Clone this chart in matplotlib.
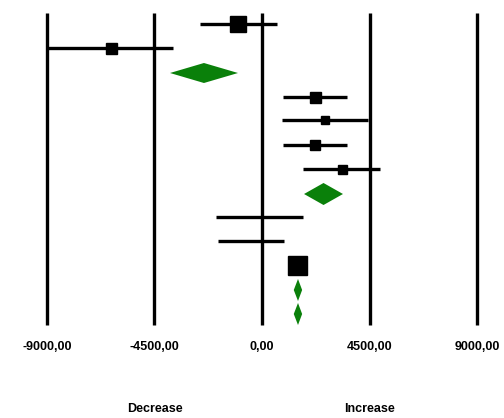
import matplotlib
matplotlib.use("Agg")
import matplotlib.pyplot as plt
from matplotlib.patches import Polygon

# Study rows (top to bottom)
est   = [-1005, -6320, None, 2220, 2640, 2220, 3350, None, None, None, 1465, None, None]
lo    = [-2595, -9000, None,  880,  840,  880, 1716, None, -1925, -1840, None, None, None]
hi    = [  628, -3725, None, 3560, 4440, 3560, 4940, None, 1716,   920, None, None, None]
msize = [   16,    11,    0,   11,    8,   10,    9,    0,   0,     0,   19,    0,    0]

# Pooled (diamond) rows
d_rows   = [2, 7, 11, 12]
d_lo     = [-3850, 1760, 1330, 1330]
d_center = [-2430, 2575, 1507, 1507]
d_hi     = [-1005, 3390, 1680, 1680]

ticks = [-9000, -4500, 0, 4500, 9000]
tick_labels = ["-9000,00", "-4500,00", "0,00", "4500,00", "9000,00"]
side_labels = ["Decrease", "Increase"]
side_pos = [-4500, 4500]

fig = plt.figure(figsize=(5.04, 4.18), dpi=100)
ax = fig.add_axes([0, 0, 1, 1])
ax.set_xlim(-10967, 10130)
ax.set_ylim(418, 0)
ax.axis("off")

row_y = [24, 48, 73, 97, 120, 145, 169, 194, 217, 241, 265, 290, 314]
d_half = [10, 11, 11, 11]

for t in ticks:
    ax.plot([t, t], [13, 325], color="black", lw=2.4, solid_capstyle="butt", zorder=1)

for i in range(len(row_y)):
    y = row_y[i]
    if lo[i] is not None:
        ax.plot([lo[i], hi[i]], [y, y], color="black", lw=2.4, solid_capstyle="butt", zorder=2)
    if est[i] is not None and msize[i] > 0:
        ax.plot([est[i]], [y], marker="s", color="black", ms=msize[i] * 0.72, zorder=3)

for k, r in enumerate(d_rows):
    y = row_y[r]
    h = d_half[k]
    poly = Polygon([(d_lo[k], y), (d_center[k], y - h), (d_hi[k], y), (d_center[k], y + h)],
                   closed=True, facecolor="#0a800a", edgecolor="none", zorder=4)
    ax.add_patch(poly)

for t, lab in zip(ticks, tick_labels):
    ax.text(t, 347, lab, ha="center", va="center", fontsize=9, fontweight="bold",
            family="Liberation Sans")

for p, lab in zip(side_pos, side_labels):
    ax.text(p, 409, lab, ha="center", va="center", fontsize=9, fontweight="bold",
            family="Liberation Sans")

fig.savefig("out.png", dpi=100)
